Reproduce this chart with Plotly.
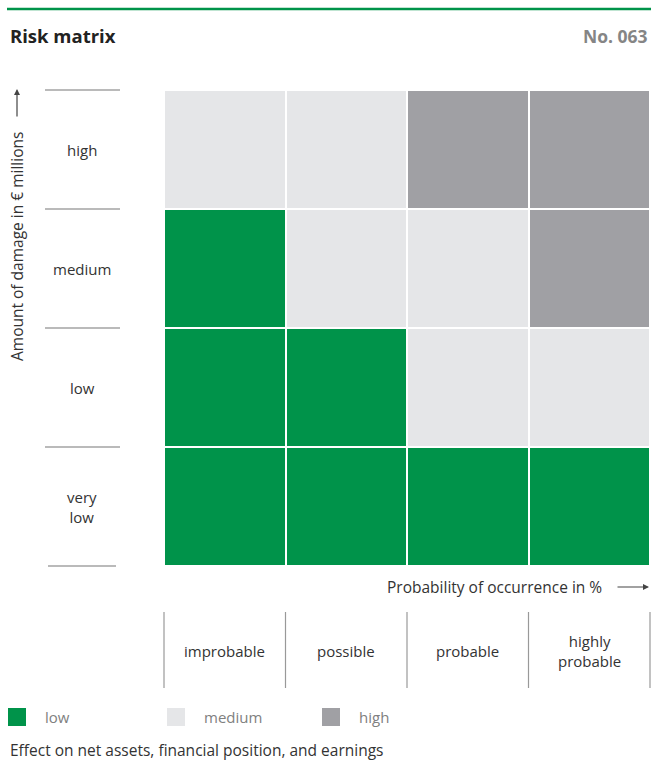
import plotly.graph_objects as go

# --- data -----------------------------------------------------------------
prob_labels = ["improbable", "possible", "probable", "highly<br>probable"]
damage_labels = ["very<br>low", "low", "medium", "high"]          # bottom -> top
risk_levels = ["low", "medium", "high"]
# risk level index per cell, rows bottom (very low) -> top (high)
risk_grid = [
    [0, 0, 0, 0],
    [0, 0, 1, 1],
    [0, 1, 1, 2],
    [1, 1, 2, 2],
]
risk_colors = ["#00934a", "#e5e6e8", "#a0a0a4"]

title_text = "Risk matrix"
chart_no = "No. 063"
y_title = "Amount of damage in € millions"
x_title = "Probability of occurrence in %"
footer = "Effect on net assets, financial position, and earnings"

# --- layout geometry (pixels) ---------------------------------------------
W, H = 651, 762
L, R, T, B = 164, 650, 90, 566
FONT = "Open Sans"
TXT = "#333333"
FS = 15.5


def px(x):
    return (x - L) / (R - L)


def py(y):
    return (B - y) / (B - T)


n = len(risk_levels)
scale = []
for i, c in enumerate(risk_colors):
    scale.append([i / n, c])
    scale.append([(i + 1) / n, c])

fig = go.Figure(
    go.Heatmap(
        z=risk_grid,
        x=list(range(len(prob_labels))),
        y=list(range(len(damage_labels))),
        zmin=-0.5,
        zmax=n - 0.5,
        colorscale=scale,
        showscale=False,
        xgap=2,
        ygap=2,
        hoverinfo="skip",
    )
)

shapes = []
ann = []

# top rule
shapes.append(dict(type="line", xref="paper", yref="paper",
                   x0=px(7), x1=px(651), y0=py(9), y1=py(9),
                   line=dict(color="#00934a", width=2.5)))

# header
ann.append(dict(text=f"<b>{title_text}</b>", xref="paper", yref="paper",
                x=px(8), y=py(36), xanchor="left", yanchor="middle",
                showarrow=False, font=dict(family=FONT, size=18.5, color="#222")))
ann.append(dict(text=f"<b>{chart_no}</b>", xref="paper", yref="paper",
                x=px(650), y=py(36), xanchor="right", yanchor="middle",
                showarrow=False, font=dict(family=FONT, size=17.5, color="#858585")))

# row labels with separator rules
row_h = (B - T) / len(damage_labels)
for i, lab in enumerate(damage_labels):
    ann.append(dict(text=lab, xref="paper", yref="y", x=px(82), y=i,
                    xanchor="center", yanchor="middle", showarrow=False,
                    font=dict(family=FONT, size=FS - 0.5, color=TXT)))
for k in range(len(damage_labels) + 1):
    yy = B - k * row_h
    x0, x1 = (48, 116) if k == 0 else (45, 120)
    shapes.append(dict(type="line", xref="paper", yref="paper",
                       x0=px(x0), x1=px(x1), y0=py(yy), y1=py(yy),
                       line=dict(color="#777", width=1.2)))

# y title with arrow
ann.append(dict(text=y_title, xref="paper", yref="paper",
                x=px(17), y=py(247), textangle=-90,
                xanchor="center", yanchor="middle", showarrow=False,
                font=dict(family=FONT, size=FS, color=TXT)))
ann.append(dict(text="", xref="paper", yref="paper", axref="pixel", ayref="pixel",
                x=px(17), y=py(89), ax=0, ay=29,
                showarrow=True, arrowhead=2, arrowsize=1, arrowwidth=1.2,
                arrowcolor="#444"))

# x title with arrow
ann.append(dict(text=x_title, xref="paper", yref="paper",
                x=px(604), y=py(587), xanchor="right", yanchor="middle",
                showarrow=False, font=dict(family=FONT, size=FS, color=TXT)))
ann.append(dict(text="", xref="paper", yref="paper", axref="pixel", ayref="pixel",
                x=px(649), y=py(587), ax=-33, ay=0,
                showarrow=True, arrowhead=2, arrowsize=1, arrowwidth=1.2,
                arrowcolor="#444"))

# column labels with separator rules
col_w = (R - L) / len(prob_labels)
for j, lab in enumerate(prob_labels):
    ann.append(dict(text=lab, xref="x", yref="paper", x=j, y=py(651),
                    xanchor="center", yanchor="middle", showarrow=False,
                    font=dict(family=FONT, size=FS - 0.5, color=TXT)))
for k in range(len(prob_labels) + 1):
    xx = L + k * col_w
    shapes.append(dict(type="line", xref="paper", yref="paper",
                       x0=px(xx), x1=px(xx), y0=py(612), y1=py(688),
                       line=dict(color="#999", width=1.2)))

# legend
leg_x = [8, 167, 322]
for lvl, col, x0 in zip(risk_levels, risk_colors, leg_x):
    shapes.append(dict(type="rect", xref="paper", yref="paper",
                       x0=px(x0), x1=px(x0 + 18), y0=py(708), y1=py(726),
                       fillcolor=col, line=dict(width=0)))
    ann.append(dict(text=lvl, xref="paper", yref="paper",
                    x=px(x0 + 35), y=py(717), xanchor="left", yanchor="middle",
                    showarrow=False, font=dict(family=FONT, size=FS - 0.5, color="#808080")))

# footer
ann.append(dict(text=footer, xref="paper", yref="paper",
                x=px(8), y=py(750), xanchor="left", yanchor="middle",
                showarrow=False, font=dict(family=FONT, size=FS, color=TXT)))

fig.update_layout(
    width=W, height=H,
    margin=dict(l=L, r=W - R, t=T, b=H - B, pad=0),
    paper_bgcolor="white", plot_bgcolor="white",
    xaxis=dict(visible=False, range=[-0.5, 3.5], fixedrange=True),
    yaxis=dict(visible=False, range=[-0.5, 3.5], fixedrange=True),
    shapes=shapes, annotations=ann, showlegend=False,
)

fig.write_html("out.html")
